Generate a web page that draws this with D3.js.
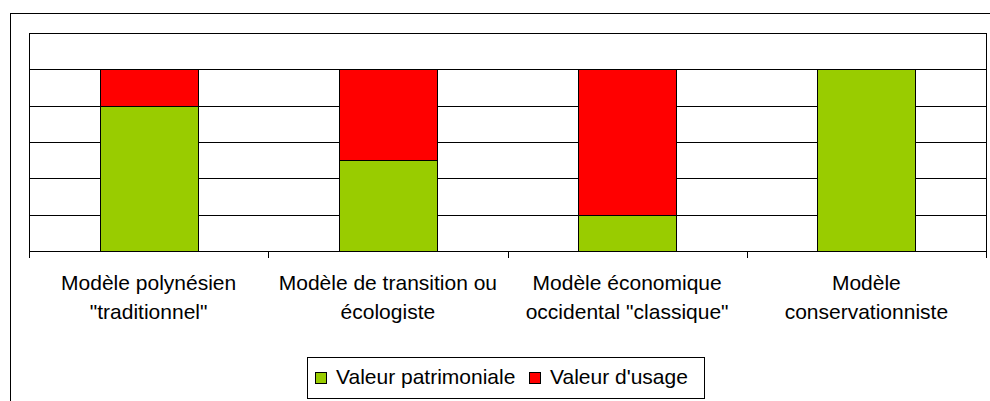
<!DOCTYPE html>
<html>
<head>
<meta charset="utf-8">
<script src="https://cdn.jsdelivr.net/npm/d3@7"></script>
<style>
  body { margin: 0; background: #fff; }
  text { font-family: "Liberation Sans", Arial, sans-serif; fill: #000; }
</style>
</head>
<body>
<svg class="Chart"></svg>
<script>
let categories = [
    ['Modèle polynésien', '"traditionnel"'],
    ['Modèle de transition ou', 'écologiste'],
    ['Modèle économique', 'occidental "classique"'],
    ['Modèle', 'conservationniste']
];
let seriesNames = ['Valeur patrimoniale', "Valeur d'usage"];
let patrimoniale = [4, 2.5, 1, 5];
let usage = [1, 2.5, 4, 0];
let gridValues = [1, 2, 3, 4, 5];
let colors = ['#99CC00', '#FF0000'];

function drawChart(){
    let width = 990, height = 401;
    let plot = {left: 29, top: 33, right: 986, bottom: 251};
    let svg = d3.select(".Chart")
        .attr("width", width)
        .attr("height", height)
        .attr("shape-rendering", "crispEdges");

    // outer frame (runs off the right and bottom edge)
    svg.append("rect")
        .attr("x", 10.5).attr("y", 13.5)
        .attr("width", 1000).attr("height", 420)
        .style("fill", "none").style("stroke", "#000");

    let x = d3.scaleBand().domain(d3.range(categories.length)).range([plot.left, plot.right]),
        y = d3.scaleLinear().domain([0, 6]).range([plot.bottom, plot.top]);
    let barW = x.bandwidth() * 0.41;

    // plot area frame
    svg.append("rect")
        .attr("x", plot.left + 0.5).attr("y", plot.top + 0.5)
        .attr("width", plot.right - plot.left).attr("height", plot.bottom - plot.top)
        .style("fill", "#fff").style("stroke", "#000");

    svg.selectAll(".grid")
        .data(gridValues)
        .join("line")
        .attr("class", "grid")
        .attr("x1", plot.left).attr("x2", plot.right)
        .attr("y1", d => Math.round(y(d)) + 0.5)
        .attr("y2", d => Math.round(y(d)) + 0.5)
        .style("stroke", "#000");

    // stacked bars
    let stacked = categories.map((c, i) => [
        {i: i, s: 0, y0: 0, y1: patrimoniale[i]},
        {i: i, s: 1, y0: patrimoniale[i], y1: patrimoniale[i] + usage[i]}
    ]).flat().filter(d => d.y1 > d.y0);

    svg.selectAll(".bar")
        .data(stacked)
        .join("rect")
        .attr("class", "bar")
        .attr("x", d => Math.round(x(d.i) + (x.bandwidth() - barW) / 2) + 0.5)
        .attr("y", d => Math.round(y(d.y1)) + 0.5)
        .attr("width", Math.round(barW))
        .attr("height", d => Math.round(y(d.y0)) - Math.round(y(d.y1)))
        .style("fill", d => colors[d.s])
        .style("stroke", "#000");

    // category axis
    let axisY = Math.round(y(0)) + 0.5;
    svg.append("line")
        .attr("x1", plot.left).attr("x2", plot.right + 1)
        .attr("y1", axisY).attr("y2", axisY)
        .style("stroke", "#000");
    svg.append("line")
        .attr("x1", plot.left + 0.5).attr("x2", plot.left + 0.5)
        .attr("y1", plot.top).attr("y2", axisY)
        .style("stroke", "#000");

    let boundaries = d3.range(categories.length + 1).map(i => i < categories.length ? x(i) : x.range()[1]);
    svg.selectAll(".tick")
        .data(boundaries)
        .join("line")
        .attr("class", "tick")
        .attr("x1", d => Math.round(d) + 0.5).attr("x2", d => Math.round(d) + 0.5)
        .attr("y1", axisY).attr("y2", axisY + 6)
        .style("stroke", "#000");

    let labels = svg.selectAll(".label")
        .data(categories)
        .join("text")
        .attr("class", "label")
        .attr("text-anchor", "middle")
        .attr("font-size", 21)
        .attr("shape-rendering", "auto");
    labels.selectAll("tspan")
        .data((d, i) => d.map(t => ({t: t, i: i})))
        .join("tspan")
        .attr("x", d => x(d.i) + x.bandwidth() / 2)
        .attr("y", (d, j) => 290 + j * 29)
        .text(d => d.t);

    // legend
    let lg = svg.append("g").attr("transform", "translate(307,357)");
    lg.append("rect")
        .attr("x", 0.5).attr("y", 0.5)
        .attr("width", 397).attr("height", 41)
        .style("fill", "#fff").style("stroke", "#000");
    let itemX = [8, 222];
    let item = lg.selectAll(".item")
        .data(seriesNames)
        .join("g")
        .attr("class", "item")
        .attr("transform", (d, i) => "translate(" + itemX[i] + ",0)");
    item.append("rect")
        .attr("x", 0.5).attr("y", 15.5)
        .attr("width", 11).attr("height", 11)
        .style("fill", (d, i) => colors[i])
        .style("stroke", "#000");
    item.append("text")
        .attr("x", 21).attr("y", 27)
        .attr("font-size", 21)
        .text(d => d);
}

drawChart();
</script>
</body>
</html>
